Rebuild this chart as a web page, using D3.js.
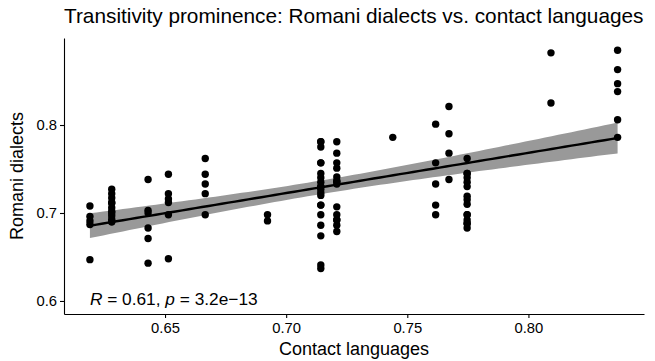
<!DOCTYPE html>
<html>
<head>
<meta charset="utf-8">
<script src="https://cdn.jsdelivr.net/npm/d3@7"></script>
<style>
  body { margin: 0; background: #fff; }
  svg { display: block; font-family: "Liberation Sans", Arial, sans-serif; }
  .axis path, .axis line { stroke: #000; stroke-width: 1.1px; }
  .axis text { fill: #000; font-size: 14.8px; }
</style>
</head>
<body>
<svg width="655" height="361"></svg>
<script>

// contact-language value of each column of points
const contactValues = [0.619, 0.628, 0.643, 0.6514, 0.6666, 0.6923, 0.7143, 0.7209, 0.744, 0.7617, 0.7672, 0.7747, 0.8093, 0.8368];

// Romani dialect values, one list per column above
const romaniValues = [
  [0.708, 0.696, 0.691, 0.687, 0.647],
  [0.727, 0.722, 0.717, 0.712, 0.706, 0.702, 0.697, 0.693, 0.690, 0.690, 0.700, 0.711],
  [0.738, 0.703, 0.700, 0.683, 0.671, 0.643],
  [0.744, 0.722, 0.716, 0.712, 0.698, 0.648],
  [0.762, 0.744, 0.733, 0.722, 0.698],
  [0.698, 0.691],
  [0.781, 0.775, 0.757, 0.745, 0.740, 0.735, 0.730, 0.727, 0.723, 0.720, 0.709, 0.698, 0.686, 0.674, 0.641, 0.637, 0.781, 0.757, 0.730, 0.709],
  [0.781, 0.768, 0.757, 0.751, 0.741, 0.736, 0.733, 0.707, 0.698, 0.692, 0.686, 0.679, 0.736, 0.692],
  [0.786],
  [0.801, 0.757, 0.733, 0.709, 0.698],
  [0.821, 0.790, 0.768, 0.738],
  [0.762, 0.745, 0.740, 0.735, 0.730, 0.719, 0.715, 0.710, 0.698, 0.692, 0.688, 0.683, 0.745, 0.698, 0.688],
  [0.882, 0.825],
  [0.885, 0.863, 0.847, 0.838, 0.806, 0.786]
];

const xTicks = [0.65, 0.70, 0.75, 0.80];
const yTicks = [0.6, 0.7, 0.8];

const points = [];
contactValues.forEach((cx, i) => {
  romaniValues[i].forEach((ry) => points.push({x: cx, y: ry}));
});

// plot panel
const panelLeft = 64, panelRight = 644, panelTop = 38, panelBottom = 314;

const svg = d3.select('svg');

const xScale = d3.scaleLinear()
    .domain([0.6083, 0.8477])
    .range([panelLeft, panelRight]);

const yScale = d3.scaleLinear()
    .domain([0.5852, 0.8989])
    .range([panelBottom, panelTop]);

// linear fit with 95% band
const n = points.length;
const mx = d3.mean(points, d => d.x);
const my = d3.mean(points, d => d.y);
const sxx = d3.sum(points, d => (d.x - mx) ** 2);
const sxy = d3.sum(points, d => (d.x - mx) * (d.y - my));
const slope = sxy / sxx;
const intercept = my - slope * mx;
const sse = d3.sum(points, d => (d.y - intercept - slope * d.x) ** 2);
const sigma = Math.sqrt(sse / (n - 2));
const tq = 1.984;

const xmin = d3.min(contactValues), xmax = d3.max(contactValues);
const fit = d3.range(0, 81).map(k => {
  const x = xmin + (xmax - xmin) * k / 80;
  const yh = intercept + slope * x;
  const se = sigma * Math.sqrt(1 / n + (x - mx) ** 2 / sxx);
  return {x: x, y: yh, lo: yh - tq * se, hi: yh + tq * se};
});

svg.append('path')
    .datum(fit)
    .attr('fill', '#999999')
    .attr('d', d3.area()
        .x(d => xScale(d.x))
        .y0(d => yScale(d.lo))
        .y1(d => yScale(d.hi)));

// points
svg.append('g')
  .selectAll('circle')
  .data(points)
  .enter()
  .append('circle')
    .attr('cx', d => xScale(d.x))
    .attr('cy', d => yScale(d.y))
    .attr('r', 3.7)
    .attr('fill', '#000');

// fit line
svg.append('path')
    .datum(fit)
    .attr('fill', 'none')
    .attr('stroke', '#000')
    .attr('stroke-width', 2.4)
    .attr('d', d3.line()
        .x(d => xScale(d.x))
        .y(d => yScale(d.y)));

// axes
svg.append('g')
    .attr('class', 'axis')
    .attr('transform', `translate(0, ${panelBottom})`)
    .call(d3.axisBottom(xScale).tickValues(xTicks).tickFormat(d3.format('.2f')).tickSize(4).tickSizeOuter(0).tickPadding(4));

svg.append('g')
    .attr('class', 'axis')
    .attr('transform', `translate(${panelLeft}, 0)`)
    .call(d3.axisLeft(yScale).tickValues(yTicks).tickFormat(d3.format('.1f')).tickSize(4).tickSizeOuter(0).tickPadding(3));

// texts
svg.append('text')
    .attr('x', panelLeft)
    .attr('y', 23)
    .attr('font-size', '20.8px')
    .text('Transitivity prominence: Romani dialects vs. contact languages');

svg.append('text')
    .attr('x', (panelLeft + panelRight) / 2)
    .attr('y', 355)
    .attr('text-anchor', 'middle')
    .attr('font-size', '18px')
    .text('Contact languages');

svg.append('text')
    .attr('transform', `translate(23, ${(panelTop + panelBottom) / 2}) rotate(-90)`)
    .attr('text-anchor', 'middle')
    .attr('font-size', '18px')
    .text('Romani dialects');

const note = svg.append('text')
    .attr('x', xScale(xmin))
    .attr('y', 305)
    .attr('font-size', '17.3px');
note.append('tspan').attr('font-style', 'italic').text('R');
note.append('tspan').text(' = 0.61, ');
note.append('tspan').attr('font-style', 'italic').text('p');
note.append('tspan').text(' = 3.2e\u221213');

</script>
</body>
</html>
